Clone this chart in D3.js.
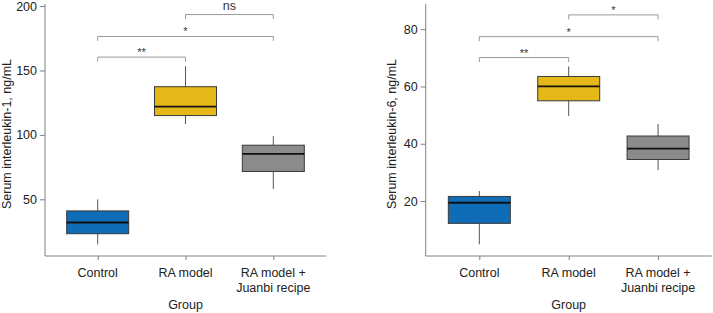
<!DOCTYPE html>
<html lang="en">
<head>
<meta charset="utf-8">
<title>Serum interleukin</title>
<script src="https://d3js.org/d3.v7.min.js"></script>
<style>
  body { margin: 0; background: #fff; }
  svg { display: block; font-family: "Liberation Sans", Arial, sans-serif; }
  .axis path, .axis line { stroke: #808080; }
  .axis text { fill: #222; font-size: 12.5px; }
</style>
</head>
<body>
<div id="chart"></div>
<script>
// Groups
const groups = ["Control", "RA model", "RA model + Juanbi recipe"];
const groupLines = [["Control"], ["RA model"], ["RA model +", "Juanbi recipe"]];
const colors = ["#0f6cb6", "#e6b817", "#8b8b8b"];

// IL-1 box stats: [whiskerLow, q1, median, q3, whiskerHigh]
const il1Stats = [
  [15, 23.3, 32, 41, 50],
  [108.5, 115, 122, 137.4, 153.4],
  [58, 71.6, 85.3, 92, 99]
];
// IL-6 box stats
const il6Stats = [
  [4.9, 12.2, 19.4, 21.6, 23.5],
  [49.7, 55, 60, 63.5, 67],
  [30.8, 34.5, 38.3, 42.7, 46.9]
];

// Significance brackets: [from, to, y value, label]
const il1Sig = [[0, 1, 160.4, "**"], [0, 2, 176.4, "*"], [1, 2, 193.4, "ns"]];
const il6Sig = [[0, 1, 70.1, "**"], [0, 2, 77.4, "*"], [1, 2, 85, "*"]];

const il1Ticks = [50, 100, 150, 200];
const il6Ticks = [20, 40, 60, 80];

const W = 713, H = 313;
const fs = "12.5px";
const svg = d3.select("#chart").append("svg")
  .attr("width", W).attr("height", H);

function drawPanel(opt) {
  const g = svg.append("g");
  const x = d3.scalePoint().domain(groups).range([opt.left, opt.right]).padding(0.6);
  const y = d3.scaleLinear().domain(opt.domain).range([256, 4]);
  const boxW = 62;

  // axes
  g.append("g").attr("class", "axis")
    .attr("transform", `translate(${opt.left},0)`)
    .call(d3.axisLeft(y).tickValues(opt.ticks).tickSize(5).tickPadding(3).tickSizeOuter(0))
    .call(a => a.select(".domain").attr("d", `M0,${y.range()[1]}V${y.range()[0]}`));

  const xa = g.append("g").attr("class", "axis")
    .attr("transform", `translate(0,256)`)
    .call(d3.axisBottom(x).tickSize(4).tickSizeOuter(0).tickFormat(""));
  xa.select(".domain").attr("d", `M${opt.left},0H${opt.right}`);

  groups.forEach((grp, i) => {
    const t = g.append("text")
      .attr("x", x(grp)).attr("y", 276.5)
      .attr("text-anchor", "middle")
      .style("font-size", fs).attr("fill", "#222");
    groupLines[i].forEach((ln, j) => {
      t.append("tspan").attr("x", x(grp)).attr("dy", j === 0 ? 0 : 15.7).text(ln);
    });
  });

  g.append("text")
    .attr("x", (opt.left + opt.right) / 2).attr("y", 308.5)
    .attr("text-anchor", "middle")
    .style("font-size", fs).attr("fill", "#222")
    .text("Group");

  g.append("text")
    .attr("transform", `translate(${opt.labelX},134) rotate(-90)`)
    .attr("text-anchor", "middle")
    .attr("dy", "0.35em")
    .style("font-size", fs).attr("fill", "#222")
    .text(opt.label);

  // boxes
  opt.stats.forEach((s, i) => {
    const cx = x(groups[i]);
    g.append("line")
      .attr("x1", cx).attr("x2", cx)
      .attr("y1", y(s[0])).attr("y2", y(s[4]))
      .attr("stroke", "#555").attr("stroke-width", 1);
    g.append("rect")
      .attr("x", cx - boxW / 2).attr("width", boxW)
      .attr("y", y(s[3])).attr("height", y(s[1]) - y(s[3]))
      .attr("fill", colors[i])
      .attr("stroke", "#3a3a3a").attr("stroke-width", 1);
    g.append("line")
      .attr("x1", cx - boxW / 2).attr("x2", cx + boxW / 2)
      .attr("y1", y(s[2])).attr("y2", y(s[2]))
      .attr("stroke", "#111").attr("stroke-width", 1.8);
  });

  // brackets
  opt.sig.forEach(([a, b, v, lab]) => {
    const x1 = x(groups[a]), x2 = x(groups[b]), yy = y(v);
    g.append("path")
      .attr("d", `M${x1},${yy + 4.5}V${yy}H${x2}V${yy + 4.5}`)
      .attr("fill", "none").attr("stroke", "#9a9a9a").attr("stroke-width", 1);
    const isNs = lab === "ns";
    g.append("text")
      .attr("x", (x1 + x2) / 2)
      .attr("y", isNs ? yy - 5 : yy - 1)
      .attr("text-anchor", "middle")
      .style("font-size", isNs ? fs : "11px")
      .attr("fill", "#333")
      .text(lab);
  });
}

drawPanel({
  left: 45, right: 326, domain: [6, 201.6], ticks: il1Ticks,
  stats: il1Stats, sig: il1Sig, labelX: 7,
  label: "Serum interleukin-1, ng/mL"
});

drawPanel({
  left: 425.7, right: 711.7, domain: [0.8, 88.8], ticks: il6Ticks,
  stats: il6Stats, sig: il6Sig, labelX: 392,
  label: "Serum interleukin-6, ng/mL"
});
</script>
</body>
</html>
